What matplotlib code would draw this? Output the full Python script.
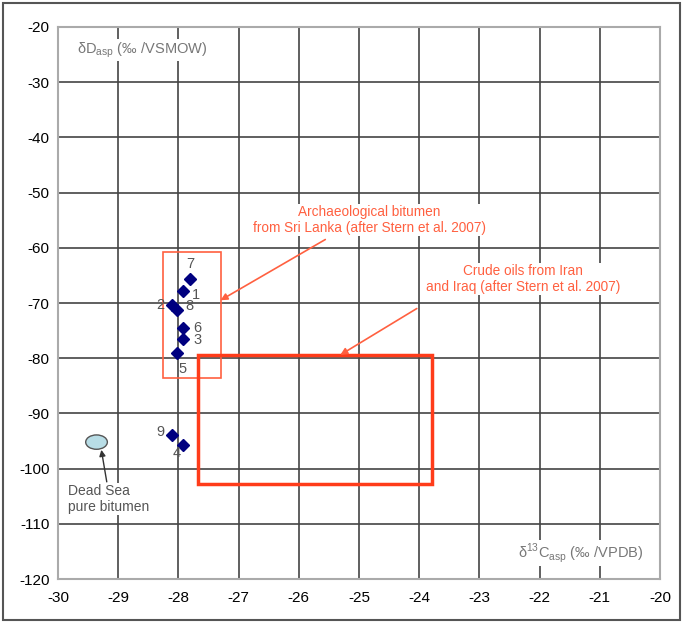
import matplotlib.pyplot as plt
from matplotlib.patches import Rectangle, Ellipse

plt.rcParams['font.family'] = ['Liberation Sans', 'DejaVu Sans']
plt.rcParams['mathtext.fontset'] = 'custom'
plt.rcParams['mathtext.rm'] = 'Liberation Sans'

# Sample data (d13C vs dD of asphaltenes)
labels = ['1', '2', '3', '4', '5', '6', '7', '8', '9']
d13c = [-27.92, -28.11, -27.92, -27.92, -28.02, -27.92, -27.80, -28.02, -28.11]
dD = [-67.8, -70.3, -76.5, -95.7, -79.1, -74.5, -65.7, -71.3, -93.9]

# label offsets (points)
label_off = {'1': (9, -3), '2': (-8, 0), '3': (10, -1), '4': (-5, -6), '5': (4, -11),
             '6': (10, 0), '7': (0, 11), '8': (9, 3), '9': (-8, 2)}

# Dead Sea bitumen
deadsea_c = -29.36
deadsea_d = -95.2

# reference fields [xmin, xmax, ymin, ymax]
srilanka_box = [-28.26, -27.30, -83.5, -60.8]
iran_box = [-27.67, -23.78, -102.8, -79.4]

xticks = list(range(-30, -19))
yticks = list(range(-120, -19, 10))

fig = plt.figure(figsize=(6.85, 6.25), dpi=100)
ax = fig.add_axes([58 / 685, 1 - 579 / 625, 602 / 685, 552 / 625])

# outer frame
fig.patches.append(Rectangle((3 / 685, 5 / 625), 677 / 685, 617 / 625, transform=fig.transFigure,
                             fill=False, edgecolor='#555555', lw=1.5))

ax.set_xlim(-30, -20)
ax.set_ylim(-120, -20)
ax.set_xticks(xticks)
ax.set_yticks(yticks)
ax.set_xticklabels([str(t) for t in xticks], fontsize=11)
ax.set_yticklabels([str(t) for t in yticks], fontsize=11)
ax.tick_params(length=0)
ax.tick_params(axis='x', pad=9)
ax.tick_params(axis='y', pad=6)
for s in ax.spines.values():
    s.set_color('#aaaaaa')
    s.set_linewidth(1.5)
for x in xticks[1:-1]:
    ax.axvline(x, color='#444444', lw=1.2, zorder=1)
for y in yticks[1:-1]:
    ax.axhline(y, color='#444444', lw=1.2, zorder=1)

orange = '#ff6040'
red = '#ff3c1a'

ax.add_patch(Rectangle((srilanka_box[0], srilanka_box[2]), srilanka_box[1] - srilanka_box[0],
                       srilanka_box[3] - srilanka_box[2], fill=False, edgecolor=orange, lw=1.2, zorder=3))
ax.add_patch(Rectangle((iran_box[0], iran_box[2]), iran_box[1] - iran_box[0],
                       iran_box[3] - iran_box[2], fill=False, edgecolor=red, lw=2.5, zorder=3))

ax.plot(d13c, dD, 'D', color='#000080', markersize=6.5, linestyle='none', zorder=5)
for lab, x, y in zip(labels, d13c, dD):
    ax.annotate(lab, (x, y), xytext=label_off[lab], textcoords='offset points',
                ha='center', va='center', fontsize=10.5, color='#555555', zorder=6)

ax.add_patch(Ellipse((deadsea_c, deadsea_d), 0.36, 2.6, facecolor='#b8dde6', edgecolor='#555555',
                     lw=1, zorder=5))

bb = dict(facecolor='white', edgecolor='none', pad=1)

# annotations
ax.text(-24.83, -54.96, 'Archaeological bitumen\nfrom Sri Lanka (after Stern et al. 2007)',
        ha='center', va='center', fontsize=9.8, color=orange, bbox=bb, zorder=4, linespacing=1.2)
ax.annotate('', xy=(-27.30, -69.5), xytext=(-25.56, -58.5),
            arrowprops=dict(arrowstyle='-|>', color=orange, lw=1.2, shrinkA=0, shrinkB=0,
                            mutation_scale=10), zorder=4)

ax.text(-22.28, -65.65, 'Crude oils from Iran\nand Iraq (after Stern et al. 2007)',
        ha='center', va='center', fontsize=9.8, color=orange, bbox=bb, zorder=4, linespacing=1.2)
ax.annotate('', xy=(-25.31, -79.4), xytext=(-24.04, -71.0),
            arrowprops=dict(arrowstyle='-|>', color=orange, lw=1.2, shrinkA=0, shrinkB=0,
                            mutation_scale=10), zorder=4)

ax.text(-29.84, -105.5, 'Dead Sea\npure bitumen', ha='left', va='center', fontsize=10,
        color='#555555', bbox=bb, zorder=4, linespacing=1.1)
ax.annotate('', xy=(-29.28, -96.6), xytext=(-29.19, -102.4),
            arrowprops=dict(arrowstyle='-|>', color='#333333', lw=1, shrinkA=0, shrinkB=0,
                            mutation_scale=9), zorder=4)

# axis titles inside the plot
ax.text(-29.69, -24.2, 'δD$_{\\mathrm{asp}}$ (‰ /VSMOW)', ha='left', va='center', fontsize=10.5,
        color='#777777', bbox=bb, zorder=4)
ax.text(-22.36, -115.3, 'δ$^{13}$C$_{\\mathrm{asp}}$ (‰ /VPDB)', ha='left', va='center', fontsize=10.5,
        color='#777777', bbox=bb, zorder=4)

plt.savefig('out.png', dpi=100)
